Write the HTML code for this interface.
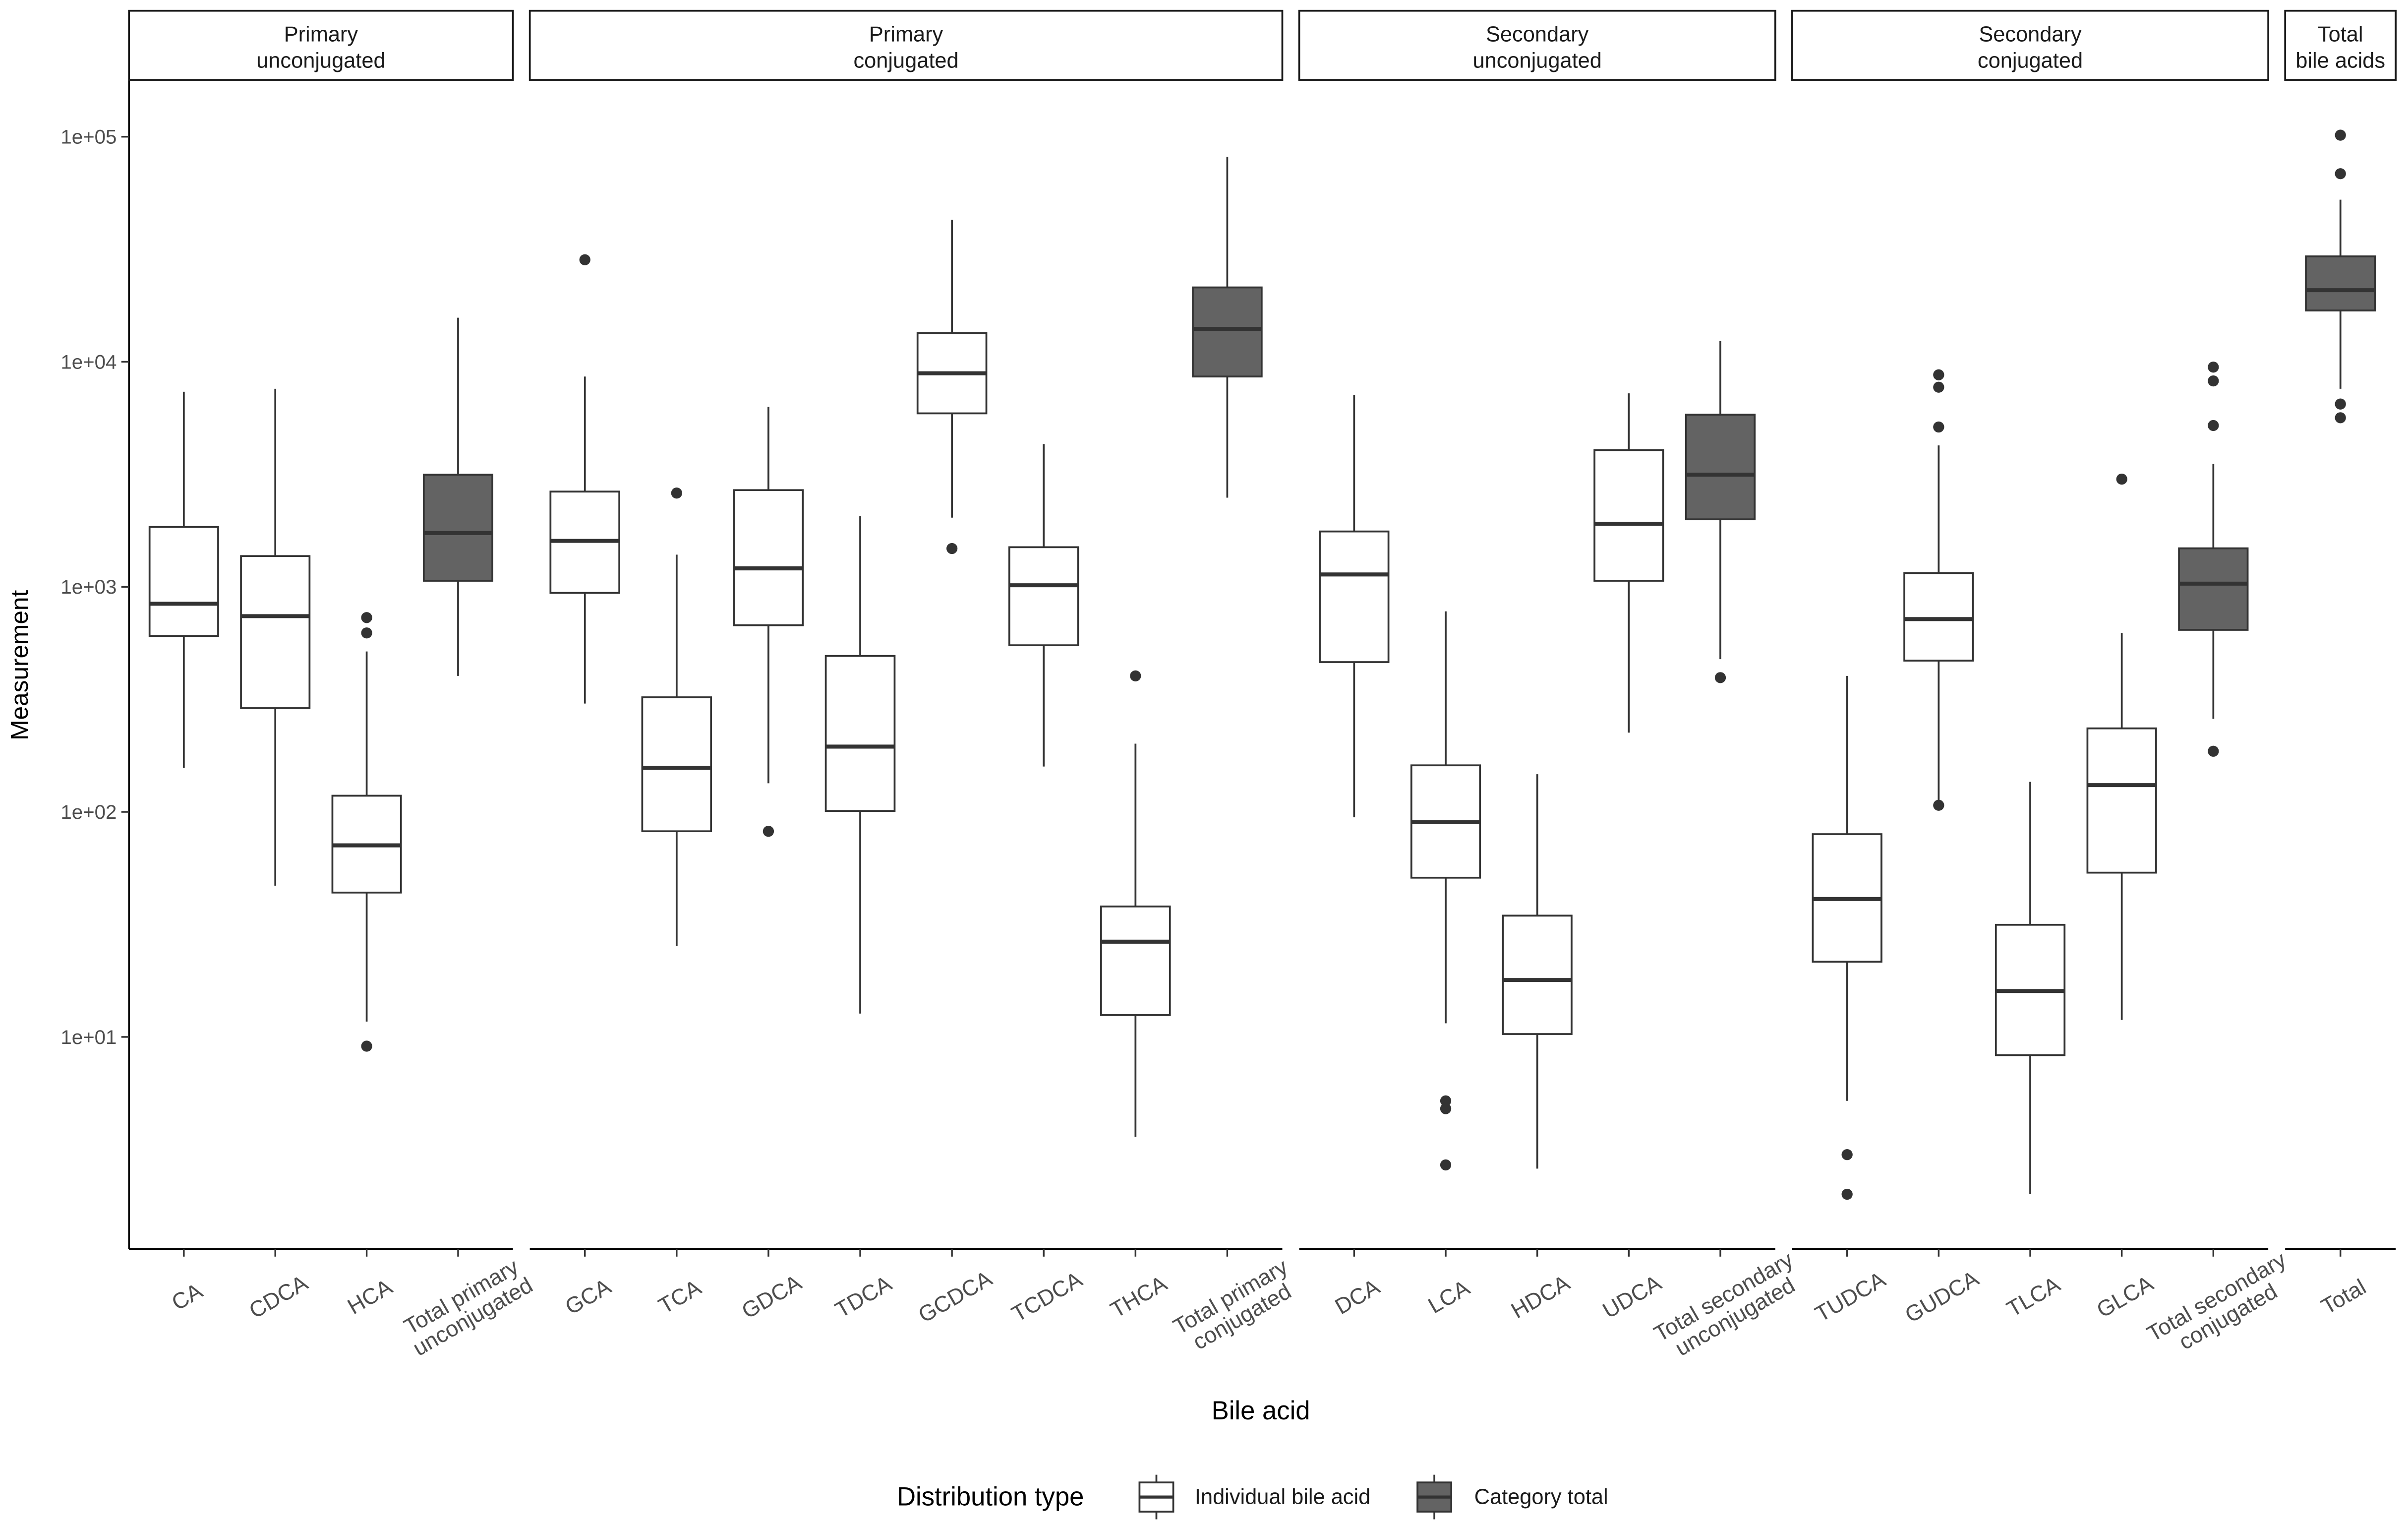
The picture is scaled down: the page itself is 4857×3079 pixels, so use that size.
<!DOCTYPE html>
<html><head><meta charset="utf-8">
<style>
html,body{margin:0;padding:0;background:#fff;}
svg{display:block;font-family:"Liberation Sans",Arial,sans-serif;}
</style></head>
<body>
<svg id="chart" xmlns="http://www.w3.org/2000/svg" width="4857" height="3079" viewBox="0 0 1568 994">
<rect x="0" y="0" width="1568" height="994" fill="#fff"/>
<g id="plot"></g>
<text x="18" y="433" transform="rotate(-90 18 433)" text-anchor="middle" font-size="16" fill="#000">Measurement</text>
<text x="821" y="924" text-anchor="middle" font-size="17" fill="#000">Bile acid</text>
<g>
<text x="584" y="980" font-size="17" fill="#000">Distribution type</text>
<g>
<line x1="753" y1="960" x2="753" y2="989" stroke="#333" stroke-width="1.2"/>
<rect x="742" y="965" width="22" height="19" fill="#fff" stroke="#333" stroke-width="1.2"/>
<line x1="742" y1="974.5" x2="764" y2="974.5" stroke="#333" stroke-width="2"/>
<text x="778" y="979" font-size="14" fill="#1a1a1a">Individual bile acid</text>
</g>
<g>
<line x1="934" y1="960" x2="934" y2="989" stroke="#333" stroke-width="1.2"/>
<rect x="923" y="965" width="22" height="19" fill="#636363" stroke="#333" stroke-width="1.2"/>
<line x1="923" y1="974.5" x2="945" y2="974.5" stroke="#333" stroke-width="2"/>
<text x="960" y="979" font-size="14" fill="#1a1a1a">Category total</text>
</g>
</g>
</svg>
<script>
const panelTitles = [["Primary","unconjugated"],["Primary","conjugated"],["Secondary","unconjugated"],["Secondary","conjugated"],["Total","bile acids"]];
const categories = [
 ["CA","CDCA","HCA","Total primary\nunconjugated"],
 ["GCA","TCA","GDCA","TDCA","GCDCA","TCDCA","THCA","Total primary\nconjugated"],
 ["DCA","LCA","HDCA","UDCA","Total secondary\nunconjugated"],
 ["TUDCA","GUDCA","TLCA","GLCA","Total secondary\nconjugated"],
 ["Total"]
];
const isTotal = [
 [0,0,0,1],[0,0,0,0,0,0,0,1],[0,0,0,0,1],[0,0,0,0,1],[1]
];
const whiskerLow = [
 [157,47,11.7,402],[303,25.3,134,12.7,2030,159,3.6,2490],[94.6,11.5,2.6,225,477],[5.2,110.7,2.0,11.9,259],[7590]
];
const q1 = [
 [605,289,43.8,1064],[940,82,675,101,5900,550,12.5,8600],[463,51,10.3,1064,1995],[21.6,470,8.3,53.7,644],[16900]
];
const median = [
 [841,741,71,1734],[1600,157,1208,195,8890,1016,26.5,14000],[1135,90,17.9,1906,3150],[41,719,16,131.5,1033],[20800]
];
const q3 = [
 [1845,1370,118,3150],[2650,323,2690,493,13400,1500,38,21400],[1762,161,34.6,4050,5820],[79.6,1151,31.5,235,1483],[29400]
];
const whiskerHigh = [
 [7360,7590,516,15700],[8600,1390,6300,2060,42800,4310,201,81500],[7130,778,147,7240,12360],[402,4250,136,624,3515],[52500]
];
const outliers = [
 [[],[],[9.1,624,730],[]],
 [[28400],[2610],[82],[],[1480],[],[402],[]],
 [[],[5.2,4.8,2.7],[],[],[395]],
 [[3.0,2.0],[107,5130,7710,8750],[],[3010],[186,5210,8220,9470]],
 [[101600,68500,6490,5640]]
];
const yTickValues = [10,100,1000,10000,100000];
const yTickLabels = ["1e+01","1e+02","1e+03","1e+04","1e+05"];

const NS="http://www.w3.org/2000/svg";
const plot=document.getElementById('plot');
const panelX=[[84,334],[345,835],[846,1156],[1167,1477],[1488,1560]];
const plotTop=52,plotBottom=813;
function yScale(v){return 675-(Math.log10(v)-1)*146.5;}
function mk(tag,attrs,parent){const e=document.createElementNS(NS,tag);for(const k in attrs)e.setAttribute(k,attrs[k]);(parent||plot).appendChild(e);return e;}

const yAxis=mk('g',{});


mk('line',{x1:84,y1:plotTop,x2:84,y2:plotBottom,stroke:'#000','stroke-width':1.1},yAxis);
yTickValues.forEach((v,i)=>{
 const y=yScale(v);
 mk('line',{x1:79,y1:y,x2:84,y2:y,stroke:'#333','stroke-width':1.1},yAxis);
 const t=mk('text',{x:76,y:y+4.5,'text-anchor':'end','font-size':13,fill:'#4d4d4d'},yAxis);
 t.textContent=yTickLabels[i];
 
 
});

categories.forEach((cats,p)=>{
 const [x0,x1]=panelX[p];
 const step=(x1-x0)/(cats.length+0.2);
 const g=mk('g',{});
 
 
 const strip=mk('g',{},g);
 
 
 mk('rect',{x:x0,y:7,width:x1-x0,height:45,fill:'#fff',stroke:'#1a1a1a','stroke-width':1.2},strip);
 panelTitles[p].forEach((s,j)=>{
  const t=mk('text',{x:(x0+x1)/2,y:27+j*17,'text-anchor':'middle','font-size':14,fill:'#1a1a1a'},strip);
  t.textContent=s;
 });
 const ax=mk('line',{x1:x0,y1:plotBottom,x2:x1,y2:plotBottom,stroke:'#000','stroke-width':1.1},g);
 
 
 cats.forEach((c,i)=>{
  const cx=x0+(i+0.6)*step;
  const hw=step*0.375;
  mk('line',{x1:cx,y1:plotBottom,x2:cx,y2:plotBottom+5,stroke:'#333','stroke-width':1.1},g);
  const lab=mk('g',{transform:`translate(${cx+2},${844}) rotate(-30)`},g);
  
  
  c.split('\n').forEach((s,j)=>{
   const t=mk('text',{x:0,y:5+j*15,'text-anchor':'middle','font-size':14.5,fill:'#4d4d4d'},lab);
   t.textContent=s;
  });
  const b=mk('g',{},g);
  
  
  const yl=yScale(whiskerLow[p][i]),y1=yScale(q1[p][i]),ym=yScale(median[p][i]),y3=yScale(q3[p][i]),yh=yScale(whiskerHigh[p][i]);
  mk('line',{x1:cx,y1:yl,x2:cx,y2:y1,stroke:'#333','stroke-width':1.2},b);
  mk('line',{x1:cx,y1:y3,x2:cx,y2:yh,stroke:'#333','stroke-width':1.2},b);
  mk('rect',{x:cx-hw,y:y3,width:2*hw,height:y1-y3,fill:isTotal[p][i]?'#636363':'#fff',stroke:'#333','stroke-width':1.2},b);
  mk('line',{x1:cx-hw,y1:ym,x2:cx+hw,y2:ym,stroke:'#333','stroke-width':2.6},b);
  outliers[p][i].forEach(v=>{
   const o=mk('circle',{cx:cx,cy:yScale(v),r:3.6,fill:'#333'},b);
   
   
  });
 });
});
</script>
</body></html>
